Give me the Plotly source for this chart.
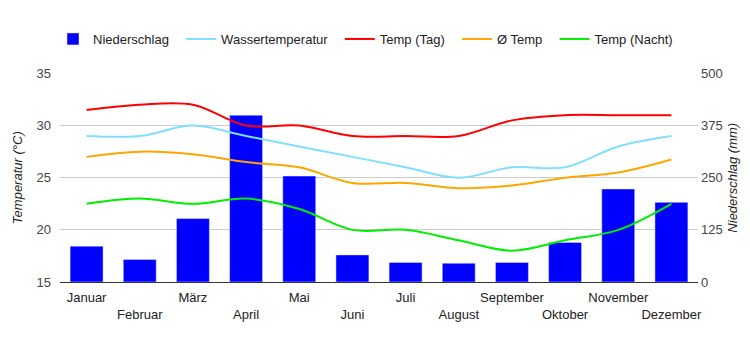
import plotly.graph_objects as go

months = ["Januar", "Februar", "März", "April", "Mai", "Juni", "Juli",
          "August", "September", "Oktober", "November", "Dezember"]
niederschlag = [86, 54, 152, 400, 254, 65, 47, 45, 47, 95, 223, 191]
wasser = [29, 29, 30, 29, 28, 27, 26, 25, 26, 26, 28, 29]
temp_tag = [31.5, 32, 32, 30, 30, 29, 29, 29, 30.5, 31, 31, 31]
temp_avg = [27, 27.5, 27.25, 26.5, 26, 24.5, 24.5, 24, 24.25, 25, 25.5, 26.75]
temp_nacht = [22.5, 23, 22.5, 23, 22, 20, 20, 19, 18, 19, 20, 22.5]

tick_text = [m if i % 2 == 0 else "<br>" + m for i, m in enumerate(months)]
pad = "\u00a0\u00a0"

fig = go.Figure()
fig.add_trace(go.Bar(x=months, y=niederschlag, name="Niederschlag" + pad,
                     marker_color="#0000ff", width=0.62, yaxis="y"))
line_series = [
    ("Wassertemperatur", wasser, "#80dfff"),
    ("Temp (Tag)", temp_tag, "#ff0000"),
    ("Ø Temp", temp_avg, "#ffa500"),
    ("Temp (Nacht)", temp_nacht, "#00ee00"),
]
for name, vals, col in line_series:
    fig.add_trace(go.Scatter(x=months, y=vals, name=name + pad, mode="lines",
                             line=dict(color=col, width=2, shape="spline", smoothing=1),
                             yaxis="y2"))

font = "Liberation Sans, Arial, sans-serif"
fig.update_layout(
    width=750, height=350,
    margin=dict(l=60, r=47, t=67, b=68),
    plot_bgcolor="white", paper_bgcolor="white",
    font=dict(family=font, size=13, color="#222"),
    showlegend=True,
    legend=dict(orientation="h", xref="container", yref="container",
                x=53 / 750, y=1 - 39 / 350, xanchor="left", yanchor="middle",
                font=dict(size=13, color="#222"), itemwidth=30,
                traceorder="normal"),
    xaxis=dict(tickmode="array", tickvals=months, ticktext=tick_text, tickangle=0,
               showgrid=False, ticks="", tickfont=dict(size=13, color="#222"),
               ticklabelstandoff=3,
               showline=True, linecolor="#333", linewidth=1),
    yaxis=dict(side="right", range=[0, 500], tickvals=[0, 125, 250, 375, 500],
               showgrid=True, gridcolor="#cccccc", zeroline=False,
               tickfont=dict(size=13, color="#444"), ticklabelstandoff=2,
               title=dict(text="<i>Niederschlag (mm)</i>", font=dict(size=13, color="#222"),
                          standoff=6)),
    yaxis2=dict(side="left", overlaying="y", range=[15, 35], tickvals=[15, 20, 25, 30, 35],
                showgrid=False, zeroline=False,
                tickfont=dict(size=13, color="#444"), ticklabelstandoff=8,
                title=dict(text="<i>Temperatur (°C)</i>", font=dict(size=13, color="#222"),
                           standoff=10)),
)

fig.write_html("out.html")
